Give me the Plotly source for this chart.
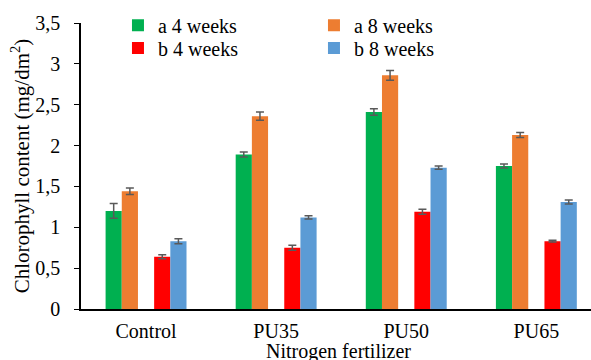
import plotly.graph_objects as go

categories = ["Control", "PU35", "PU50", "PU65"]
a4 = [1.20, 1.89, 2.41, 1.75]
a4_err = [0.09, 0.03, 0.04, 0.025]
a8 = [1.44, 2.36, 2.86, 2.13]
a8_err = [0.04, 0.05, 0.06, 0.03]
b4 = [0.64, 0.75, 1.19, 0.83]
b4_err = [0.025, 0.03, 0.03, 0.01]
b8 = [0.83, 1.12, 1.73, 1.31]
b8_err = [0.03, 0.02, 0.02, 0.025]
yticks = [0, 0.5, 1, 1.5, 2, 2.5, 3, 3.5]
yticklabels = ["0", "0,5", "1", "1,5", "2", "2,5", "3", "3,5"]

FONT = "Liberation Serif"
ERR = dict(type="data", visible=True, color="#595959", thickness=1.5, width=4)

def series(name, y, err, color, legend):
    return go.Bar(name=name, x=categories, y=y, legend=legend,
                  marker=dict(color=color, line=dict(width=0)),
                  error_y=dict(array=err, **ERR))

fig = go.Figure()
fig.add_trace(series("a 4 weeks", a4, a4_err, "#00B050", "legend"))
fig.add_trace(series("a 8 weeks", a8, a8_err, "#ED7D31", "legend"))
fig.add_trace(go.Bar(name="", x=categories, y=[None] * len(categories), showlegend=False,
                     hoverinfo="skip"))
fig.add_trace(series("b 4 weeks", b4, b4_err, "#FF0000", "legend2"))
fig.add_trace(series("b 8 weeks", b8, b8_err, "#5B9BD5", "legend2"))

leg_common = dict(orientation="h", xanchor="left", yanchor="middle",
                  entrywidth=151, entrywidthmode="pixels", itemwidth=30,
                  font=dict(family=FONT, size=20, color="black"),
                  bgcolor="rgba(0,0,0,0)", traceorder="normal")

fig.update_layout(
    width=591, height=360,
    margin=dict(l=81, r=0, t=23, b=51),
    paper_bgcolor="white", plot_bgcolor="white",
    font=dict(family=FONT, size=20, color="black"),
    barmode="group", bargap=0.378, bargroupgap=0,
    showlegend=True,
    legend=dict(x=0.0725, y=0.992, **leg_common),
    legend2=dict(x=0.0725, y=0.9126, **leg_common),
    xaxis=dict(type="category", range=[-0.5, 3.42], showline=True, linecolor="black",
               linewidth=1.5, ticks="", showgrid=False, zeroline=False, automargin=False,
               ticklabelstandoff=3, tickfont=dict(family=FONT, size=20)),
    yaxis=dict(range=[0, 3.5], tickvals=yticks, ticktext=yticklabels, showline=True,
               linecolor="black", linewidth=1.5, ticks="outside", ticklen=5,
               tickcolor="black", showgrid=False, zeroline=False, automargin=True,
               ticklabelstandoff=10,
               title=dict(text="Chlorophyll content (mg/dm<sup>2</sup>)", standoff=0,
                          font=dict(family=FONT, size=21)),
               tickfont=dict(family=FONT, size=20)),
    annotations=[dict(text="Nitrogen fertilizer", xref="paper", yref="paper",
                      x=0.504, y=-0.148, xanchor="center", yanchor="middle",
                      showarrow=False, font=dict(family=FONT, size=20, color="black"))],
)

fig.write_html("out.html", config={"displayModeBar": False},
               post_script="document.body.style.margin='0';")
